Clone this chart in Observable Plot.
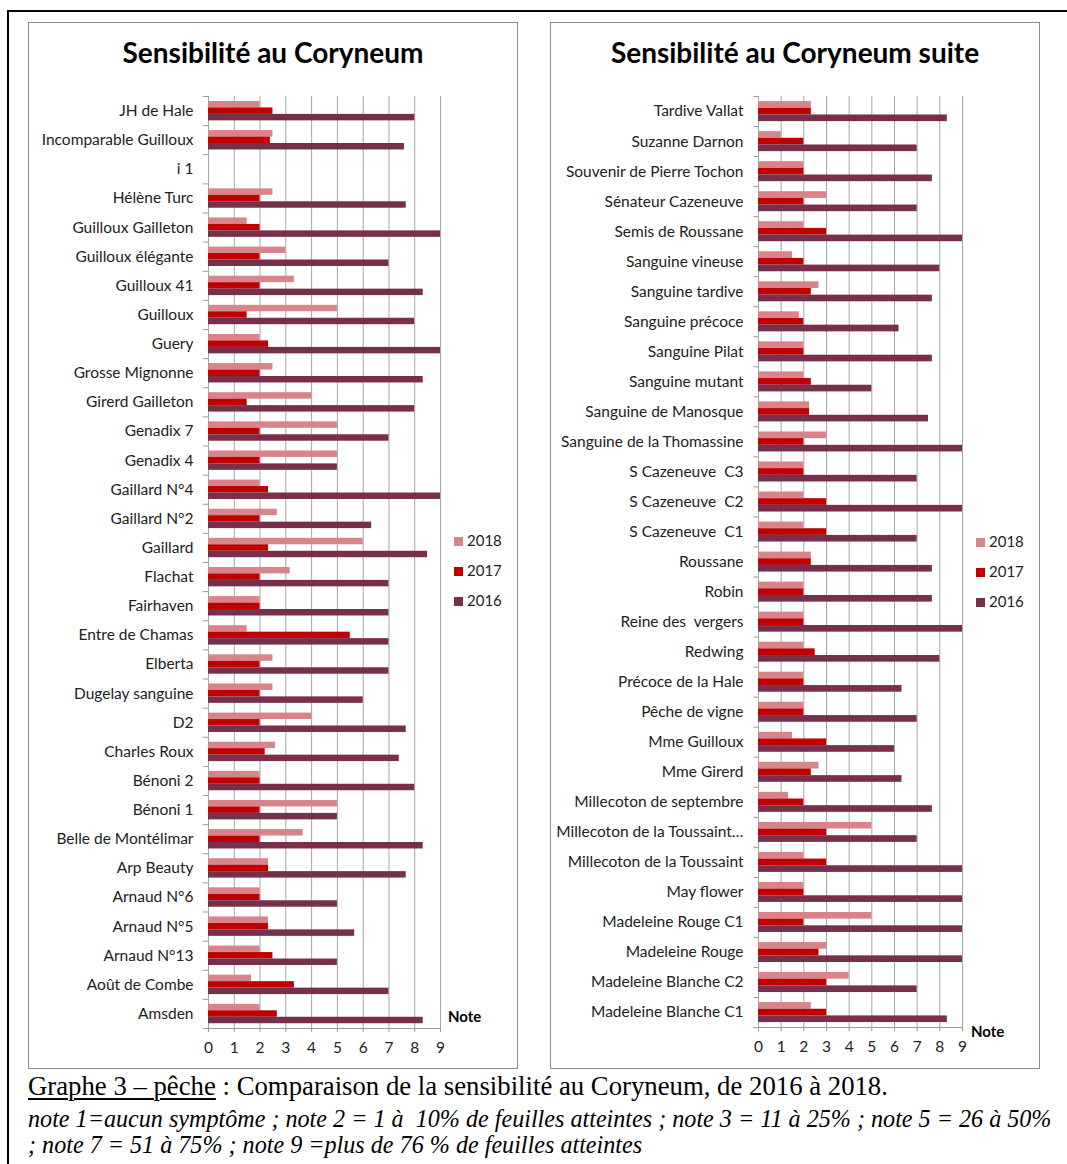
<!DOCTYPE html>
<html>
<head>
<meta charset="utf-8">
<script src="https://cdn.jsdelivr.net/npm/d3@7"></script>
<script src="https://cdn.jsdelivr.net/npm/@observablehq/plot@0.6"></script>
<style>
  html, body { margin: 0; padding: 0; background: #fff; overflow: hidden; }
  #page { position: relative; width: 1067px; height: 1164px; overflow: hidden; font-family: Lato, sans-serif; color: #222; }
  .outer { position: absolute; left: 7px; top: 10px; width: 1100px; height: 1200px; border: 2px solid #000; box-sizing: border-box; }
  .panel { position: absolute; top: 22px; width: 490px; height: 1047px; border: 1px solid #8c8c8c; box-sizing: border-box; background: #fff; }
  .title { position: absolute; top: 35px; width: 490px; text-align: center; font: bold 28px Lato, sans-serif; color: #000; }
  .chart { position: absolute; top: 22px; }
  .chart g[aria-label^="x-axis"] line, .chart g[aria-label^="x-axis"] path { stroke: #999; }
  .legend { position: absolute; font: 15px Lato, sans-serif; color: #222; }
  .legend div { height: 30px; line-height: 16px; white-space: nowrap; }
  .legend span.sw { display: inline-block; width: 9px; height: 9px; margin-right: 4px; vertical-align: 0px; }
  .note { position: absolute; font: bold 15px Lato, sans-serif; color: #000; }
  .cap { position: absolute; left: 28px; white-space: pre; transform-origin: 0 0; color: #000; font-family: "Liberation Serif", "Times New Roman", serif; }
  .cap u { text-decoration-thickness: 2px; text-underline-offset: 3px; }
</style>
</head>
<body>
<div id="page">
  <div class="outer"></div>
  <div class="panel" style="left:28px"></div>
  <div class="panel" style="left:550px"></div>
  <div class="title" style="left:28px">Sensibilité au Coryneum</div>
  <div class="title" style="left:550px">Sensibilité au Coryneum suite</div>
  <div id="left" class="chart" style="left:28px"></div>
  <div id="right" class="chart" style="left:550px"></div>
  <div id="legendLeft" class="legend" style="left:454px; top:532px"></div>
  <div id="legendRight" class="legend" style="left:976px; top:533px"></div>
  <div class="note" style="left:448px; top:1007px">Note</div>
  <div class="note" style="left:971px; top:1022px">Note</div>
  <div class="cap" style="top:1070px; font-size:28px; transform:scaleX(0.955)"><u>Graphe 3 – pêche</u> : Comparaison de la sensibilité au Coryneum, de 2016 à 2018.</div>
  <div class="cap" style="top:1105px; font-size:25px; font-style:italic; transform:scaleX(0.965)">note 1=aucun symptôme ; note 2 = 1 à  10% de feuilles atteintes ; note 3 = 11 à 25% ; note 5 = 26 à 50%</div>
  <div class="cap" style="top:1131px; font-size:25px; font-style:italic; transform:scaleX(0.965)">; note 7 = 51 à 75% ; note 9 =plus de 76 % de feuilles atteintes</div>
</div>
<script>
// Varieties and yearly Coryneum scores (note 1 to 9), first panel
const namesA = ["JH de Hale", "Incomparable Guilloux", "i 1", "Hélène Turc", "Guilloux Gailleton",
  "Guilloux élégante", "Guilloux 41", "Guilloux", "Guery", "Grosse Mignonne", "Girerd Gailleton",
  "Genadix 7", "Genadix 4", "Gaillard N°4", "Gaillard N°2", "Gaillard", "Flachat", "Fairhaven",
  "Entre de Chamas", "Elberta", "Dugelay sanguine", "D2", "Charles Roux", "Bénoni 2", "Bénoni 1",
  "Belle de Montélimar", "Arp Beauty", "Arnaud N°6", "Arnaud N°5", "Arnaud N°13", "Août de Combe", "Amsden"];
const scoresA2018 = [2, 2.5, null, 2.5, 1.5, 3, 3.33, 5, 2, 2.5, 4, 5, 5, 2, 2.67, 6, 3.17, 2, 1.5, 2.5,
  2.5, 4, 2.6, 2, 5, 3.67, 2.33, 2, 2.33, 2, 1.67, 2];
const scoresA2017 = [2.5, 2.4, null, 2, 2, 2, 2, 1.5, 2.33, 2, 1.5, 2, 2, 2.33, 2, 2.33, 2, 2, 5.5, 2,
  2, 2, 2.2, 2, 2, 2, 2.33, 2, 2.33, 2.5, 3.33, 2.67];
const scoresA2016 = [8, 7.6, null, 7.67, 9, 7, 8.33, 8, 9, 8.33, 8, 7, 5, 9, 6.33, 8.5, 7, 7, 7, 7,
  6, 7.67, 7.4, 8, 5, 8.33, 7.67, 5, 5.67, 5, 7, 8.33];

// Second panel ("suite")
const namesB = ["Tardive Vallat", "Suzanne Darnon", "Souvenir de Pierre Tochon", "Sénateur Cazeneuve",
  "Semis de Roussane", "Sanguine vineuse", "Sanguine tardive", "Sanguine précoce", "Sanguine Pilat",
  "Sanguine mutant", "Sanguine de Manosque", "Sanguine de la Thomassine", "S Cazeneuve  C3",
  "S Cazeneuve  C2", "S Cazeneuve  C1", "Roussane", "Robin", "Reine des  vergers", "Redwing",
  "Précoce de la Hale", "Pêche de vigne", "Mme Guilloux", "Mme Girerd", "Millecoton de septembre",
  "Millecoton de la Toussaint…", "Millecoton de la Toussaint", "May flower", "Madeleine Rouge C1",
  "Madeleine Rouge", "Madeleine Blanche C2", "Madeleine Blanche C1"];
const scoresB2018 = [2.33, 1, 2, 3, 2, 1.5, 2.67, 1.8, 2, 2, 2.25, 3, 2, 2, 2, 2.33, 2, 2, 2, 2,
  2, 1.5, 2.67, 1.33, 5, 2, 2, 5, 3, 4, 2.33];
const scoresB2017 = [2.33, 2, 2, 2, 3, 2, 2.33, 2, 2, 2.33, 2.25, 2, 2, 3, 3, 2.33, 2, 2, 2.5, 2,
  2, 3, 2.33, 2, 3, 3, 2, 2, 2.67, 3, 3];
const scoresB2016 = [8.33, 7, 7.67, 7, 9, 8, 7.67, 6.2, 7.67, 5, 7.5, 9, 7, 9, 7, 7.67, 7.67, 9, 8, 6.33,
  7, 6, 6.33, 7.67, 7, 9, 9, 9, 9, 7, 8.33];

const years = ["2018", "2017", "2016"];
const yearColors = ["#d9848a", "#c00000", "#772f4c"];
const xTicks = [0, 1, 2, 3, 4, 5, 6, 7, 8, 9];

function drawChart(names, series, layout) {
  const n = names.length;
  const bw = (layout.height - layout.marginTop - layout.marginBottom) / n;
  const lead = bw * 0.17;   // empty space above the first bar of a group
  const thick = bw * 0.222; // thickness of each bar
  const marks = [Plot.ruleX(xTicks, {stroke: "#a6a6a6"})];
  series.forEach((values, k) => {
    const rows = names.map((name, i) => ({name, value: values[i]})).filter(d => d.value != null);
    marks.push(Plot.barX(rows, {
      x: "value", y: "name", fill: yearColors[k],
      insetTop: lead + k * thick,
      insetBottom: bw - lead - (k + 1) * thick
    }));
  });
  // category separators on the left edge, and the bottom axis line
  marks.push(Plot.ruleY(names, {y: d => d, x1: -0.2, x2: 0, dy: -bw / 2, stroke: "#999"}));
  marks.push(Plot.ruleY([names[n - 1]], {y: d => d, x1: -0.2, x2: 9, dy: bw / 2, stroke: "#999"}));
  return Plot.plot({
    width: 490,
    height: layout.height,
    marginLeft: layout.marginLeft,
    marginRight: layout.marginRight,
    marginTop: layout.marginTop,
    marginBottom: layout.marginBottom,
    style: {fontFamily: "Lato, sans-serif", fontSize: "15.5px", color: "#222", background: "transparent", overflow: "visible"},
    x: {domain: [0, 9], ticks: xTicks, tickFormat: d => String(d), tickSize: 4, tickPadding: 9, label: null},
    y: {domain: names, padding: 0, round: false, tickSize: 0, tickPadding: 15, label: null},
    marks
  });
}

document.getElementById("left").append(drawChart(namesA, [scoresA2018, scoresA2017, scoresA2016],
  {height: 1046, marginLeft: 180, marginRight: 78, marginTop: 74, marginBottom: 40}));
document.getElementById("right").append(drawChart(namesB, [scoresB2018, scoresB2017, scoresB2016],
  {height: 1046, marginLeft: 208, marginRight: 78, marginTop: 74, marginBottom: 41}));

for (const id of ["legendLeft", "legendRight"]) {
  const box = document.getElementById(id);
  years.forEach((y, k) => {
    const row = document.createElement("div");
    row.innerHTML = `<span class="sw" style="background:${yearColors[k]}"></span>${y}`;
    box.append(row);
  });
}
</script>
</body>
</html>
